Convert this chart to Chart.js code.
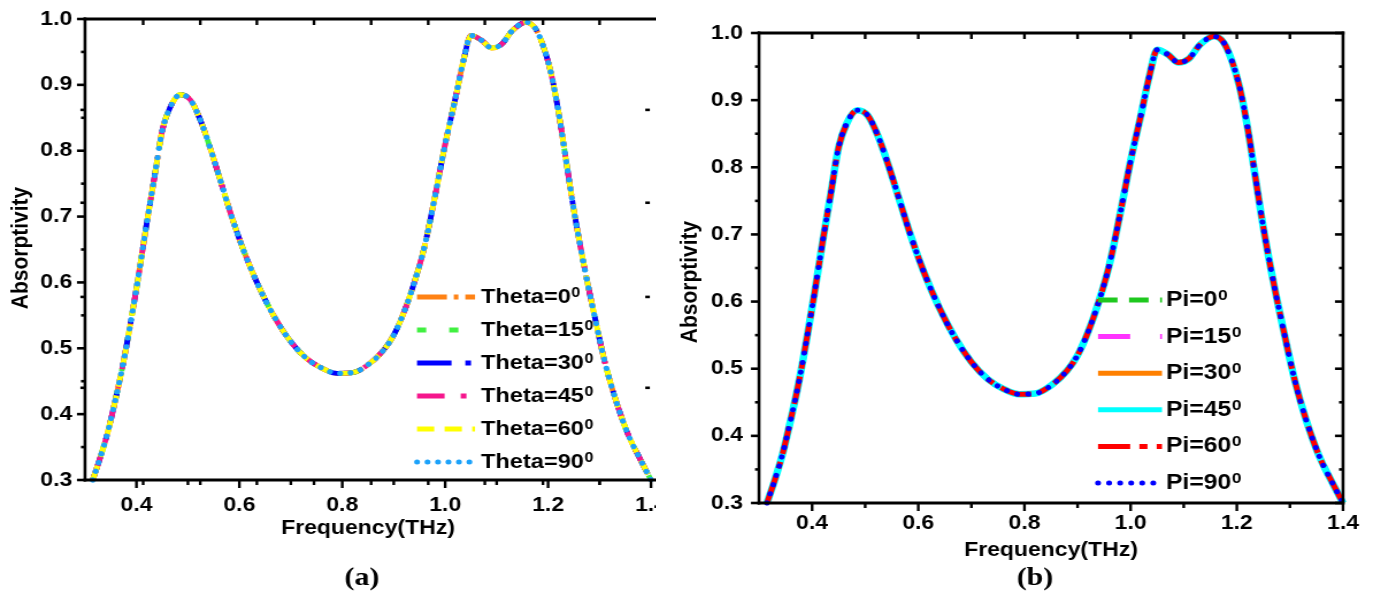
<!DOCTYPE html>
<html><head><meta charset="utf-8">
<script src="https://cdn.jsdelivr.net/npm/chart.js@4.4.0/dist/chart.umd.min.js"></script>
<style>
html,body{margin:0;padding:0;background:#fff;width:1376px;height:594px;overflow:hidden;}
.panel{position:absolute;top:0;transform:scaleX(1.15);transform-origin:0 0;}
canvas{display:block;}
</style></head><body>
<div class="panel" style="left:0px"><canvas id="ca" width="570" height="594"></canvas></div>
<div class="panel" style="left:660px"><canvas id="cb" width="622" height="594"></canvas></div>
<script>
// ---------- data ----------
const freqA = [0.315,0.33,0.345,0.36,0.375,0.39,0.405,0.42,0.435,0.45,0.465,0.485,0.505,0.525,0.545,0.565,0.585,0.61,0.64,0.67,0.70,0.73,0.76,0.79,0.82,0.85,0.88,0.90,0.92,0.94,0.96,0.98,1.00,1.02,1.035,1.05,1.07,1.09,1.11,1.13,1.157,1.175,1.19,1.205,1.22,1.235,1.25,1.27,1.29,1.31,1.33,1.355,1.38,1.40];
const absA  = [0.30,0.335,0.375,0.425,0.48,0.545,0.615,0.69,0.76,0.83,0.865,0.885,0.877,0.845,0.80,0.75,0.70,0.645,0.59,0.545,0.51,0.485,0.47,0.462,0.463,0.475,0.497,0.52,0.555,0.60,0.655,0.73,0.81,0.88,0.935,0.975,0.968,0.956,0.962,0.982,0.995,0.986,0.96,0.92,0.86,0.785,0.71,0.625,0.55,0.48,0.425,0.37,0.33,0.30];
const freqB = [0.315,0.33,0.345,0.36,0.375,0.39,0.405,0.42,0.435,0.45,0.465,0.485,0.505,0.525,0.545,0.565,0.585,0.61,0.64,0.67,0.70,0.73,0.76,0.79,0.82,0.85,0.88,0.90,0.92,0.94,0.96,0.98,1.00,1.02,1.035,1.05,1.07,1.09,1.11,1.13,1.157,1.175,1.19,1.205,1.22,1.235,1.25,1.27,1.29,1.31,1.33,1.355,1.38,1.40];
const absB  = [0.30,0.335,0.375,0.425,0.48,0.545,0.615,0.69,0.76,0.83,0.865,0.885,0.877,0.845,0.80,0.75,0.70,0.645,0.59,0.545,0.51,0.485,0.47,0.462,0.463,0.475,0.497,0.52,0.555,0.60,0.655,0.73,0.81,0.88,0.935,0.975,0.968,0.956,0.962,0.982,0.995,0.986,0.96,0.92,0.86,0.785,0.71,0.625,0.55,0.48,0.425,0.37,0.33,0.30];

const namesA = ['Theta=0','Theta=15','Theta=30','Theta=45','Theta=60','Theta=90'];
const namesB = ['Pi=0','Pi=15','Pi=30','Pi=45','Pi=60','Pi=90'];
const degSup = '0';

const xTicks = [0.4,0.6,0.8,1.0,1.2,1.4];
const xMinor = [0.5,0.7,0.9,1.1,1.3];
const yTicks = [0.3,0.4,0.5,0.6,0.7,0.8,0.9,1.0];
const yMinor = [0.35,0.45,0.55,0.65,0.75,0.85,0.95];
const topTicksA = [0.413,0.524,0.634,0.745,0.856,0.967,1.077,1.19,1.30];
const sideTicksA = [0.44,0.578,0.721,0.862];
const topTicksB = [0.4,0.5,0.6,0.7,0.8,0.9,1.0,1.1,1.2,1.3];

// ---------- styles ----------
const coloursA = ['#FF8214','#40F040','#0000FF','#F5168C','#FFFF00','#1CA2FA'];
const dashesA  = [[26,6,4,6],[8,20],[30,12,5,12],[24,14,5,14],[15,9],[0.1,9]];
const widthsA  = [4.8,4.8,4.8,4.8,4.8,5.2];
const capsA    = ['butt','butt','butt','butt','butt','round'];
const coloursB = ['#1EC81E','#FF33FF','#FF8000','#00FFFF','#FF0000','#0000FF'];
const dashesB  = [[17,10],[28,26,4,26],[],[],[28,8,7,8],[0.1,9.5]];
const widthsB  = [5,5,5,6.5,5,5];
const capsB    = ['butt','butt','butt','butt','butt','round'];

const FONT = '"Liberation Sans", Arial, sans-serif';
const SERIF = '"Liberation Serif", "Times New Roman", serif';

function line(ctx,x1,y1,x2,y2){ctx.beginPath();ctx.moveTo(x1,y1);ctx.lineTo(x2,y2);ctx.stroke();}

function makeDeco(o){
  return {id:'deco'+o.id, afterDatasetsDraw(chart){
    const ctx=chart.ctx, a=chart.chartArea, xs=chart.scales.x, ys=chart.scales.y;
    ctx.save();
    ctx.strokeStyle='#000'; ctx.setLineDash([]); ctx.lineCap='butt';
    // frame
    ctx.lineWidth=3;
    const rx = o.rightBorder ? a.right+1.3 : a.right+6;
    line(ctx,a.left-1.3,a.bottom,rx,a.bottom);
    line(ctx,a.left-1.3,a.top,rx,a.top);
    ctx.lineWidth=2.6;
    line(ctx,a.left,a.top-1.5,a.left,a.bottom+1.5);
    if(o.rightBorder) line(ctx,a.right,a.top-1.5,a.right,a.bottom+1.5);
    // ticks
    ctx.lineWidth=2.4;
    xTicks.forEach(v=>{const p=xs.getPixelForValue(v); line(ctx,p,a.bottom,p,a.bottom+8);});
    xMinor.forEach(v=>{const p=xs.getPixelForValue(v); line(ctx,p,a.bottom,p,a.bottom+5);});
    o.topTicks.forEach(v=>{const p=xs.getPixelForValue(v); line(ctx,p,a.top,p,a.top+6);
      if(o.extraBottom) line(ctx,p,a.bottom,p,a.bottom+5);});
    ctx.lineWidth=2.6;
    yTicks.forEach(v=>{const p=ys.getPixelForValue(v); line(ctx,a.left-7,p,a.left,p);
      if(o.rightBorder) line(ctx,a.right-7,p,a.right,p);});
    yMinor.forEach(v=>{const p=ys.getPixelForValue(v); line(ctx,a.left-3.5,p,a.left,p);
      if(o.rightBorder) line(ctx,a.right-3.5,p,a.right,p);});
    o.sideTicks.forEach(v=>{const p=ys.getPixelForValue(v); line(ctx,a.left-4,p,a.left,p); line(ctx,a.right-5,p,a.right-1,p);});
    // legend
    const L=o.legend;
    for(let i=0;i<o.names.length;i++){
      const y=L.y0+i*L.dy;
      ctx.save();
      ctx.strokeStyle=o.colours[i]; ctx.lineWidth=L.lw; ctx.lineCap=o.caps[i];
      ctx.setLineDash(o.dashes[i]);
      line(ctx,L.x0,y,L.x1,y);
      ctx.restore();
      ctx.fillStyle='#000';
      ctx.font='bold '+L.fs+'px '+FONT;
      ctx.textBaseline='middle'; ctx.textAlign='left';
      ctx.fillText(o.names[i],L.tx,y);
      const w=ctx.measureText(o.names[i]).width;
      ctx.font='bold '+L.sfs+'px '+FONT;
      ctx.textBaseline='alphabetic';
      ctx.fillText(degSup,L.tx+w+0.5,y+L.sOff);
    }
    // axis titles
    ctx.fillStyle='#000';
    ctx.font='bold 20px '+FONT; ctx.textAlign='center'; ctx.textBaseline='alphabetic';
    ctx.fillText('Frequency(THz)',o.xt.x,o.xt.y);
    ctx.save();
    ctx.translate(o.yt.x,o.yt.y); ctx.rotate(-Math.PI/2);
    ctx.font='bold 21px '+FONT; ctx.textBaseline='middle';
    ctx.fillText('Absorptivity',0,0);
    ctx.restore();
    ctx.font='bold 26px '+SERIF; ctx.textBaseline='alphabetic';
    ctx.fillText(o.tag,o.tagPos.x,o.tagPos.y);
    ctx.restore();
  }};
}

function build(canvasId, freq, vals, names, colours, dashes, widths, caps, geo, deco){
  const datasets = names.map((n,i)=>({
    label:n,
    data: freq.map((f,k)=>({x:f,y:vals[k]})),
    borderColor:colours[i], backgroundColor:colours[i],
    borderWidth:widths[i], borderDash:dashes[i], borderCapStyle:caps[i],
    pointRadius:0, fill:false, cubicInterpolationMode:'monotone',
    order: names.length - i, clip: 6
  }));
  const H=594;
  return new Chart(document.getElementById(canvasId),{
    type:'line',
    data:{datasets},
    options:{
      responsive:false, animation:false, devicePixelRatio:1,
      layout:{padding:{left:0,top:geo.top,right:geo.cw-geo.right,bottom:0}},
      plugins:{legend:{display:false},tooltip:{enabled:false}},
      scales:{
        x:{type:'linear',min:0.3,max:1.4,
          grid:{display:false,drawTicks:false},border:{display:false},
          afterBuildTicks:s=>{s.ticks=xTicks.map(v=>({value:v}));},
          afterFit:s=>{s.height=H-geo.bottom; s.paddingLeft=0; s.paddingRight=0;},
          ticks:{color:'#000',font:{family:FONT,size:20,weight:'bold'},padding:geo.xpad,maxRotation:0,autoSkip:false,
            callback:v=>Number(v).toFixed(1)}},
        y:{type:'linear',min:0.3,max:1.0,
          grid:{display:false,drawTicks:false},border:{display:false},
          afterBuildTicks:s=>{s.ticks=yTicks.map(v=>({value:v}));},
          afterFit:s=>{s.width=geo.left; s.paddingTop=0; s.paddingBottom=0;},
          ticks:{color:'#000',font:{family:FONT,size:20,weight:'bold'},padding:geo.ypad,autoSkip:false,
            callback:v=>Number(v).toFixed(1)}}
      }
    },
    plugins:[deco]
  });
}

const S=1.15;
const geoA={cw:570,left:85/S,right:651/S,top:19,bottom:480,xpad:13,ypad:11};
const geoB={cw:622,left:(759-660)/S,right:(1343-660)/S,top:33,bottom:503,xpad:8,ypad:14};

build('ca',freqA,absA,namesA,coloursA,dashesA,widthsA,capsA,geoA,makeDeco({
  id:'A',rightBorder:false,topTicks:topTicksA,extraBottom:true,sideTicks:sideTicksA,
  names:namesA,colours:coloursA,dashes:dashesA,caps:capsA,
  legend:{x0:417/S,x1:475/S,tx:481/S,y0:297,dy:33,lw:5,fs:20.5,sfs:14,sOff:0},
  xt:{x:368/S,y:534},yt:{x:21/S,y:248},tag:'(a)',tagPos:{x:362/S,y:585}
}));
build('cb',freqB,absB,namesB,coloursB,dashesB,widthsB,capsB,geoB,makeDeco({
  id:'B',rightBorder:true,topTicks:topTicksB,extraBottom:false,sideTicks:[],
  names:namesB,colours:coloursB,dashes:dashesB,caps:capsB,
  legend:{x0:(1098-660)/S,x1:(1162-660)/S,tx:(1166-660)/S,y0:300,dy:36.6,lw:5,fs:21.5,sfs:15,sOff:0},
  xt:{x:(1051-660)/S,y:556},yt:{x:(690-660)/S,y:282},tag:'(b)',tagPos:{x:(1035-660)/S,y:585}
}));
</script>
</body></html>
